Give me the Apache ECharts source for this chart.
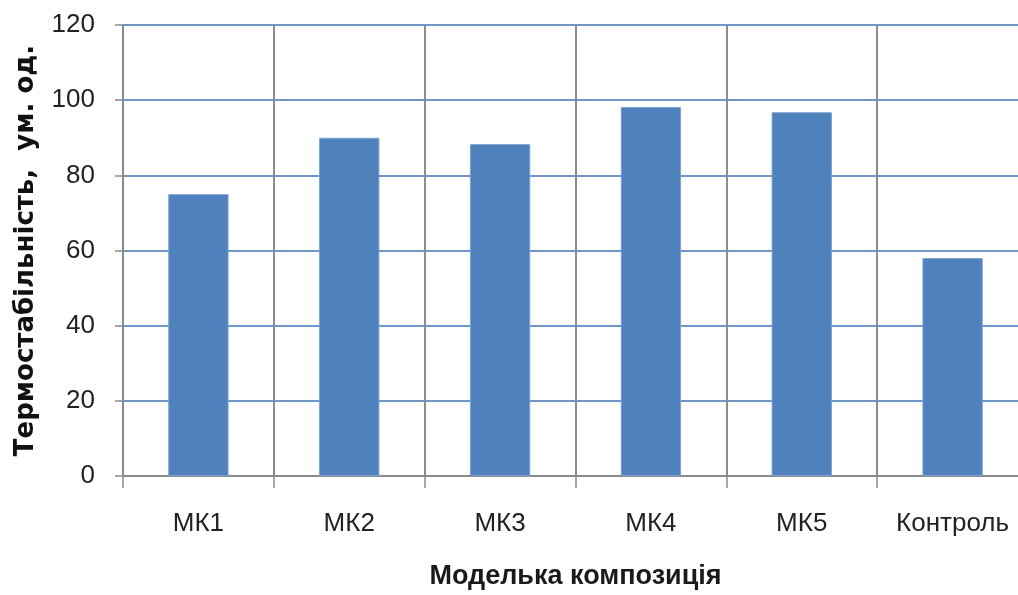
<!DOCTYPE html>
<html>
<head>
<meta charset="utf-8">
<script src="https://cdn.jsdelivr.net/npm/echarts@6/dist/echarts.min.js"></script>
<style>html,body{margin:0;padding:0;background:#fff;overflow:hidden}#c{width:1028px;height:595px}</style>
</head>
<body>
<div id="c"></div>
<script>
const categories = ['МК1', 'МК2', 'МК3', 'МК4', 'МК5', 'Контроль'];
const values = [75, 90, 88.3, 98.2, 96.8, 58];
const yTicks = [0, 20, 40, 60, 80, 100, 120];
const xTitle = 'Моделька композиція';
const yTitle = 'Термостабільність,  ум. од.';

const chart = echarts.init(document.getElementById('c'), null, {renderer: 'canvas'});
chart.setOption({
  animation: false,
  backgroundColor: '#fff',
  grid: {left: 123, right: 0, top: 25, bottom: 116, containLabel: false},
  xAxis: {
    type: 'category',
    data: categories,
    boundaryGap: true,
    name: xTitle,
    nameLocation: 'middle',
    nameGap: 87,
    nameTextStyle: {fontFamily: 'Liberation Sans', fontSize: 27, color: '#1a1a1a', fontWeight: 'bold'},
    axisLine: {lineStyle: {color: '#8a8a8a', width: 2}},
    axisTick: {show: true, interval: 0, length: 12, lineStyle: {color: '#8a8a8a', width: 1.5}},
    axisLabel: {interval: 0, fontFamily: 'Liberation Sans', fontSize: 26, color: '#222', margin: 35},
    splitLine: {show: true, interval: 0, lineStyle: {color: '#8c8c8c', width: 2}}
  },
  yAxis: {
    type: 'value',
    min: yTicks[0],
    max: yTicks[yTicks.length - 1],
    interval: yTicks[1] - yTicks[0],
    name: yTitle,
    nameLocation: 'middle',
    nameGap: 84,
    nameTextStyle: {fontFamily: 'DejaVu Sans', fontSize: 26, fontWeight: 'bold', color: '#111'},
    axisLine: {show: true, lineStyle: {color: '#8a8a8a', width: 2}},
    axisTick: {show: true, length: 8, lineStyle: {color: '#8a8a8a', width: 1.5}},
    axisLabel: {fontFamily: 'Liberation Sans', fontSize: 26, color: '#222', margin: 28},
    splitLine: {show: true, lineStyle: {color: '#6f96c8', width: 2}}
  },
  series: [{
    type: 'bar',
    data: values,
    barWidth: '40%',
    itemStyle: {color: '#4f81bd', borderColor: '#7ea3d3', borderWidth: 1}
  }]
});
</script>
</body>
</html>
